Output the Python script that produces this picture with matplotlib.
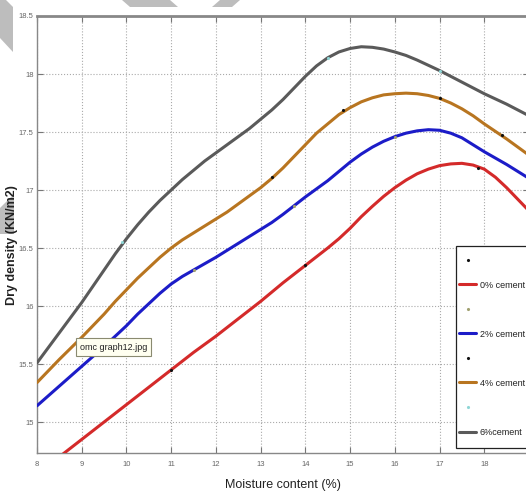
import matplotlib
matplotlib.use('Agg')
import matplotlib.pyplot as plt
from matplotlib.patches import Polygon, Rectangle

plt.rcParams['font.family'] = ['Liberation Sans', 'DejaVu Sans']

# fitted curves (moisture %, dry density), every 0.25 %
x_fit = [8.0, 8.25, 8.5, 8.75, 9.0, 9.25, 9.5, 9.75, 10.0, 10.25, 10.5, 10.75,
         11.0, 11.25, 11.5, 11.75, 12.0, 12.25, 12.5, 12.75, 13.0, 13.25, 13.5, 13.75,
         14.0, 14.25, 14.5, 14.75, 15.0, 15.25, 15.5, 15.75, 16.0, 16.25, 16.5, 16.75,
         17.0, 17.25, 17.5, 17.75, 18.0, 18.25, 18.5, 18.75, 19.0]
cem0 = [14.55, 14.625, 14.70, 14.775, 14.85, 14.925, 15.00, 15.075, 15.15, 15.225, 15.30, 15.375,
        15.45, 15.525, 15.60, 15.67, 15.74, 15.815, 15.89, 15.965, 16.04, 16.12, 16.20, 16.275,
        16.35, 16.425, 16.50, 16.58, 16.67, 16.77, 16.86, 16.945, 17.02, 17.085, 17.14, 17.18,
        17.21, 17.225, 17.23, 17.215, 17.18, 17.11, 17.02, 16.92, 16.82]
cem2 = [15.14, 15.225, 15.31, 15.395, 15.48, 15.565, 15.65, 15.74, 15.83, 15.93, 16.02, 16.11,
        16.19, 16.255, 16.31, 16.365, 16.42, 16.48, 16.54, 16.60, 16.66, 16.72, 16.79, 16.865,
        16.94, 17.01, 17.08, 17.16, 17.24, 17.31, 17.37, 17.42, 17.46, 17.49, 17.51, 17.52,
        17.515, 17.49, 17.45, 17.39, 17.33, 17.275, 17.22, 17.16, 17.10]
cem4 = [15.34, 15.44, 15.54, 15.635, 15.73, 15.83, 15.93, 16.04, 16.14, 16.24, 16.33, 16.42,
        16.50, 16.57, 16.63, 16.69, 16.75, 16.81, 16.88, 16.95, 17.02, 17.10, 17.19, 17.29,
        17.39, 17.49, 17.57, 17.65, 17.71, 17.76, 17.795, 17.82, 17.83, 17.835, 17.83, 17.815,
        17.79, 17.75, 17.70, 17.64, 17.57, 17.505, 17.44, 17.37, 17.30]
cem6 = [15.51, 15.64, 15.77, 15.90, 16.03, 16.17, 16.31, 16.45, 16.58, 16.70, 16.81, 16.91,
        17.00, 17.09, 17.17, 17.25, 17.32, 17.39, 17.46, 17.53, 17.61, 17.69, 17.78, 17.88,
        17.98, 18.07, 18.14, 18.19, 18.22, 18.235, 18.23, 18.215, 18.19, 18.16, 18.12, 18.075,
        18.03, 17.98, 17.93, 17.88, 17.83, 17.785, 17.74, 17.69, 17.64]

# measured points (small dots on the curves)
x_pts0 = [11.0, 14.0, 17.87]
y_pts0 = [15.45, 16.35, 17.19]
x_pts2 = [11.5, 13.75, 16.0]
y_pts2 = [16.31, 16.86, 17.46]
x_pts4 = [13.26, 14.85, 17.0, 18.4]
y_pts4 = [17.11, 17.69, 17.79, 17.47]
x_pts6 = [9.9, 14.5, 17.0]
y_pts6 = [16.55, 18.14, 18.03]

labels = ['0% cement', '2% cement', '4% cement', '6%cement']
line_colors = ['#d42a2a', '#1c1cc8', '#b87520', '#5a5a5a']
dot_colors = ['#111111', '#a0a070', '#111111', '#8fd6d6']
x_ticks = [8, 9, 10, 11, 12, 13, 14, 15, 16, 17, 18]
y_ticks = [15, 15.5, 16, 16.5, 17, 17.5, 18, 18.5]
y_tick_labels = ['15', '15.5', '16', '16.5', '17', '17.5', '18', '18.5']

fig = plt.figure(figsize=(5.26, 4.96), dpi=100)
ax = fig.add_axes([37 / 526, 43 / 496, 492 / 526, 437 / 496])

fits = [cem0, cem2, cem4, cem6]
pts = [(x_pts0, y_pts0), (x_pts2, y_pts2), (x_pts4, y_pts4), (x_pts6, y_pts6)]
handles = []
names = []
for i in range(4):
    d, = ax.plot(pts[i][0], pts[i][1], linestyle='none', marker='.',
                 markersize=2.5, color=dot_colors[i], zorder=4)
    l, = ax.plot(x_fit, fits[i], color=line_colors[i], lw=2.2, zorder=3,
                 solid_joinstyle='round', solid_capstyle='round')
    handles += [d, l]
    names += [' ', labels[i]]

ax.set_xlim(8, 19)
ax.set_ylim(14.733, 18.5)
ax.set_xticks(x_ticks)
ax.set_yticks(y_ticks)
ax.set_xticklabels([str(t) for t in x_ticks])
ax.set_yticklabels(y_tick_labels)
ax.grid(True, linestyle=':', color='#aaaaaa', lw=0.8)
ax.tick_params(direction='in', length=4, top=True, right=True, labelsize=5.5,
               labelcolor='#666666', color='#777777')
ax.tick_params(axis='y', pad=2.5)
ax.tick_params(axis='x', pad=6)
for s in ax.spines.values():
    s.set_color('#888888')
    s.set_linewidth(1.0)
ax.spines['top'].set_linewidth(2.0)

ax.set_xlabel('Moisture content (%)', fontsize=9, color='#222222', labelpad=8)
fig.text(12 / 526, 1 - 245 / 496, 'Dry density (KN/m2)', rotation=90, fontsize=9,
         fontweight='bold', color='#222222', ha='center', va='center')

# legend frame drawn separately so the box can be taller than its entries
ax.add_patch(Rectangle((456 / 526, 1 - 448 / 496), 80 / 526, 202 / 496,
                       transform=fig.transFigure, clip_on=False, fc='white',
                       ec='#222222', lw=0.9, zorder=4.9))
leg = ax.legend(handles, names, loc='upper left',
                bbox_to_anchor=(459 / 526, 1 - 256 / 496), bbox_transform=fig.transFigure,
                fontsize=6.5, handlelength=1.9, labelspacing=1.72, borderpad=0,
                borderaxespad=0, handletextpad=0.4, frameon=False)
leg.set_zorder(5)
for t in leg.get_texts():
    t.set_color('#222222')

# tooltip left on the screenshot
fig.text(80 / 526, 1 - 347 / 496, 'omc graph12.jpg', fontsize=6.5, color='#222222',
         ha='left', va='center',
         bbox=dict(boxstyle='square,pad=0.45', fc='#fffff0', ec='#8a8a70', lw=0.8))

# gray page decorations at the edges of the screenshot
shapes = [
    [(0, 0), (6, 0), (13, 7), (13, 52), (0, 38)],
    [(0, 208), (14, 194), (14, 234), (0, 234)],
    [(122, 0), (170, 0), (178, 7), (130, 7)],
    [(220, 0), (240, 0), (232, 7), (212, 7)],
]
for sh in shapes:
    fig.patches.append(Polygon([(px / 526, 1 - py / 496) for px, py in sh], closed=True,
                               transform=fig.transFigure, fc='#bdbdbd', ec='none'))

fig.savefig('out.png', dpi=100)
